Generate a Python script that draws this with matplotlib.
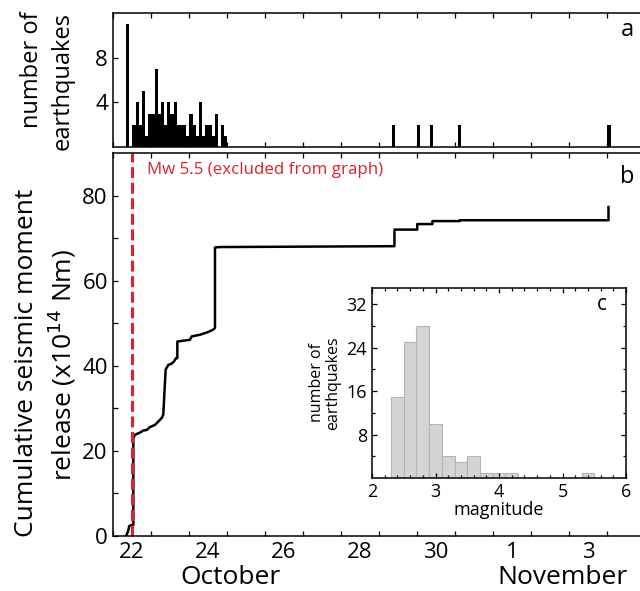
import matplotlib.pyplot as plt
import numpy as np

plt.rcParams['font.family'] = ['Open Sans', 'DejaVu Sans']
plt.rcParams['axes.linewidth'] = 1.1

# panel a: number of earthquakes per 2-hour bin (x = day of October)
bin_width = 1 / 12
burst_start = 22.35
burst_counts = [11, 0, 2, 4, 2, 5, 1, 3, 3, 7, 3, 4, 2, 4, 3, 4,
                2, 2, 2, 1, 3, 2, 1, 4, 1, 2, 2, 1, 3, 0, 2, 1]
late_days = [29.35, 30.01, 30.35, 31.09, 35.01]
late_counts = [2, 2, 2, 2, 2]

# panel b: cumulative seismic moment release (x10^14 Nm)
moment_days = [22.35, 22.40, 22.437, 22.50, 22.543, 22.543, 22.587, 22.718,
               22.806, 22.893, 22.98, 23.11, 23.20, 23.288, 23.33, 23.393,
               23.463, 23.55, 23.61, 23.665, 23.70, 23.70, 24.03, 24.077,
               24.30, 24.50, 24.647, 24.69, 24.69, 24.82, 29.41, 29.41,
               30.01, 30.01, 30.41, 30.41, 31.13, 31.13, 35.04, 35.04]
moment_vals = [0, 1.0, 2.35, 2.6, 2.6, 23.0, 23.8, 24.3, 24.8, 24.9,
               25.6, 26.1, 26.9, 27.7, 28.5, 39.1, 40.2, 40.5, 41.0, 41.8,
               41.8, 45.7, 46.1, 46.9, 47.3, 47.9, 48.5, 48.9, 67.8, 67.9,
               68.1, 72.0, 72.0, 73.3, 73.3, 74.0, 74.0, 74.2, 74.2, 77.3]
mainshock_day = 22.51

# panel c: magnitude histogram
mag_left = [2.3, 2.5, 2.7, 2.9, 3.1, 3.3, 3.5, 3.7, 3.9, 4.1, 5.3]
mag_counts = [15, 25, 28, 10, 4, 3, 4, 1, 1, 1, 1]
mag_width = 0.2

day_labels = ['22', '24', '26', '28', '30', '1', '3']
day_label_pos = [22.5, 24.5, 26.5, 28.5, 30.5, 32.5, 34.5]

W, H = 640, 591
fig = plt.figure(figsize=(W / 100, H / 100), dpi=100)

def box(l, t, r, b):
    return [l / W, 1 - b / H, (r - l) / W, (b - t) / H]

def ftext(x, y, s, **kw):
    # text placed in figure pixel coordinates (from top-left)
    fig.text(x / W, 1 - y / H, s, **kw)

xmin = 22.0
xmax = 22 + (655 - 112.7) / 38.02
red = '#e0202a'

# ---- panel a
axa = fig.add_axes(box(112.7, 13, 655, 147))
burst_x = burst_start + bin_width * np.arange(len(burst_counts))
axa.bar(burst_x, burst_counts, width=bin_width, align='edge', color='black', lw=0)
axa.bar(late_days, late_counts, width=bin_width, align='edge', color='black', lw=0)
axa.set_xlim(xmin, xmax)
axa.set_ylim(0, 12)
axa.set_yticks([4, 8])
axa.set_xticks(np.arange(22, 37))
axa.set_xticklabels([])
axa.tick_params(direction='in', top=True, length=3.5, labelsize=16, width=0.9)
ftext(32, 12, 'number of', fontsize=17, rotation=90, ha='center', va='top')
ftext(63, 12, 'earthquakes', fontsize=17, rotation=90, ha='center', va='top')
ftext(627, 30, 'a', fontsize=17, ha='center', va='center')

# ---- panel b
axb = fig.add_axes(box(112.7, 153, 655, 536))
axb.plot(moment_days, moment_vals, color='black', lw=1.8)
axb.axvline(mainshock_day, color=red, lw=2.2, ls=(0, (3.6, 1.5)))
axb.set_xlim(xmin, xmax)
axb.set_ylim(0, 90)
axb.set_yticks([0, 20, 40, 60, 80])
axb.set_yticks(np.arange(10, 90, 20), minor=True)
axb.set_xticks(np.arange(22, 37))
axb.set_xticklabels([])
axb.set_xticks(day_label_pos, minor=True)
axb.set_xticklabels(day_labels, minor=True)
axb.tick_params(direction='in', top=True, length=3.5, labelsize=16, width=0.9)
axb.tick_params(axis='y', which='minor', direction='in', length=3.5, width=0.9)
axb.tick_params(axis='x', which='minor', length=0, labelsize=16, pad=4)
ftext(230, 577, 'October', fontsize=19, ha='center', va='center')
ftext(563, 577, 'November', fontsize=19, ha='center', va='center')
ftext(27, 363, 'Cumulative seismic moment', fontsize=19, rotation=90,
      ha='center', va='center')
ftext(62, 365, 'release (x10$^{14}$ Nm)', fontsize=19, rotation=90,
      ha='center', va='center')
ftext(147, 170, 'Mw 5.5 (excluded from graph)', fontsize=12.2, color=red,
      ha='left', va='center')
ftext(627, 177, 'b', fontsize=17, ha='center', va='center')

# ---- panel c (inset)
axc = fig.add_axes(box(372, 288, 626, 478))
axc.bar(mag_left, mag_counts, width=mag_width, align='edge',
        color='#d4d4d4', edgecolor='#b4b4b4', lw=0.8)
axc.set_xlim(2, 6)
axc.set_ylim(0, 35)
axc.set_xticks([2, 3, 4, 5, 6])
axc.set_xticks(np.arange(2, 6, 0.2), minor=True)
axc.set_yticks([8, 16, 24, 32])
axc.set_yticks(np.arange(4, 35, 8), minor=True)
axc.tick_params(which='both', direction='in', top=True, right=True,
                labelsize=13, width=0.9)
axc.tick_params(which='major', length=3.5)
axc.tick_params(which='minor', length=2.5)
axc.set_xlabel('magnitude', fontsize=13, labelpad=0)
axc.set_ylabel('number of\nearthquakes', fontsize=11.5, linespacing=1.0)
ftext(602, 305, 'c', fontsize=15, ha='center', va='center')

fig.savefig('out.png', dpi=100)
